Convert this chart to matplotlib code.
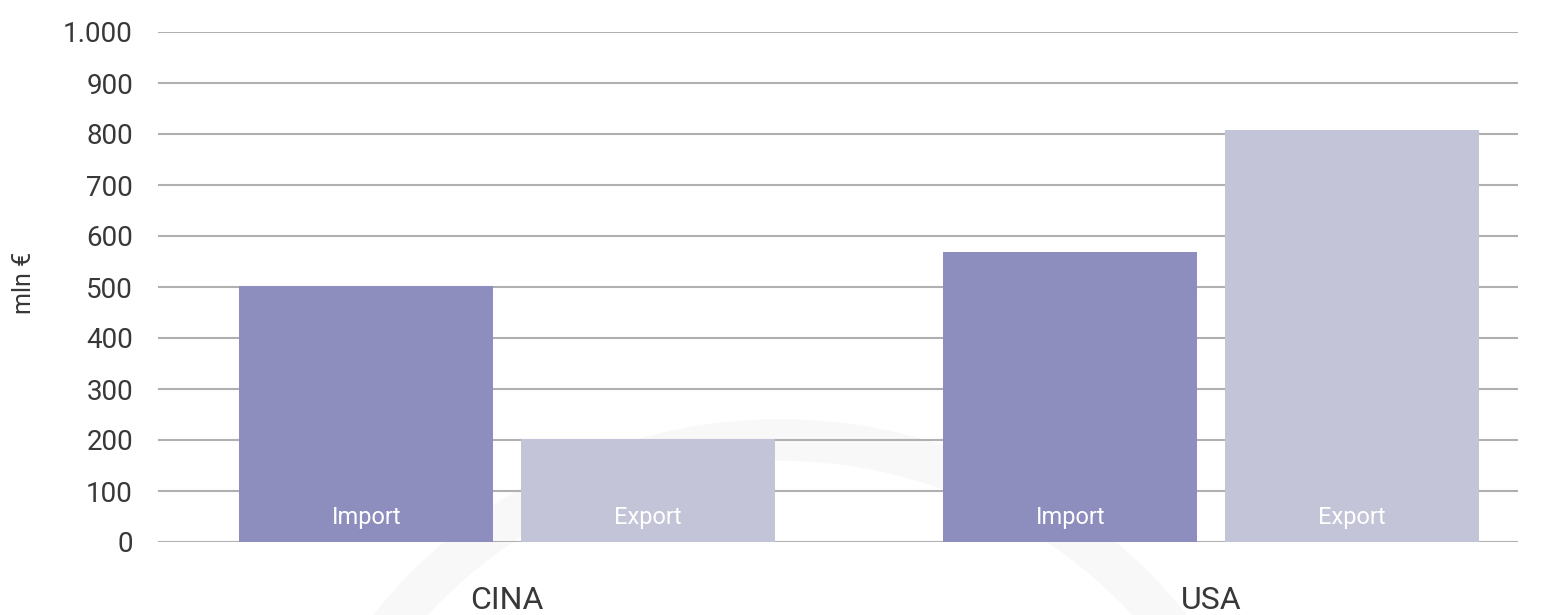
import matplotlib
matplotlib.use("Agg")
import matplotlib.pyplot as plt
from matplotlib.patches import Arc
import numpy as np

plt.rcParams['font.family'] = ['Roboto', 'DejaVu Sans']

# data
countries = ['CINA', 'USA']
series = ['Import', 'Export']
import_vals = [502, 569]
export_vals = [202, 808]
y_ticks = [0, 100, 200, 300, 400, 500, 600, 700, 800, 900, 1000]
y_tick_labels = ['0', '100', '200', '300', '400', '500', '600', '700', '800', '900', '1.000']

col_import = '#8d8ebd'
col_export = '#c3c4d8'
text_col = '#383838'

fig = plt.figure(figsize=(15.49, 6.15), dpi=100)

# faint watermark ring behind the chart
bg = fig.add_axes([0, 0, 1, 1], zorder=0)
bg.set_xlim(0, 1549)
bg.set_ylim(615, 0)
bg.axis('off')
bg.add_patch(Arc((780, 940), 1000, 1000, theta1=0, theta2=360,
                 color='#f8f8f8', lw=30))

ax = fig.add_axes([158 / 1549, 1 - 542 / 615, 1360 / 1549, 510 / 615], zorder=1)
ax.patch.set_alpha(0)

x = np.arange(len(countries))
w = 0.361
off = 0.2
b1 = ax.bar(x - off, import_vals, w, color=col_import, zorder=3)
b2 = ax.bar(x + off, export_vals, w, color=col_export, zorder=3)

for bars, name in [(b1, 'Import'), (b2, 'Export')]:
    for b in bars:
        ax.annotate(name, xy=(b.get_x() + b.get_width() / 2, 0),
                    xytext=(0, 13), textcoords='offset points',
                    ha='center', va='baseline', color='white', fontsize=17,
                    zorder=4)

ax.set_xlim(-0.496, 1.436)
ax.set_ylim(0, 1000)
ax.set_yticks(y_ticks)
ax.set_yticklabels(y_tick_labels)
ax.set_xticks(x)
ax.set_xticklabels(countries)
ax.tick_params(axis='y', length=0, pad=18, labelsize=20, labelcolor=text_col)
ax.tick_params(axis='x', length=0, pad=32, labelsize=23, labelcolor=text_col)

ax.grid(axis='y', color='#b0b0b0', lw=1.5, zorder=0)
for s in ax.spines.values():
    s.set_visible(False)

fig.text(24 / 1549, 1 - 283 / 615, 'mln €', rotation=90, ha='center', va='center',
         fontsize=18, color=text_col)

fig.savefig('out.png', dpi=100)
